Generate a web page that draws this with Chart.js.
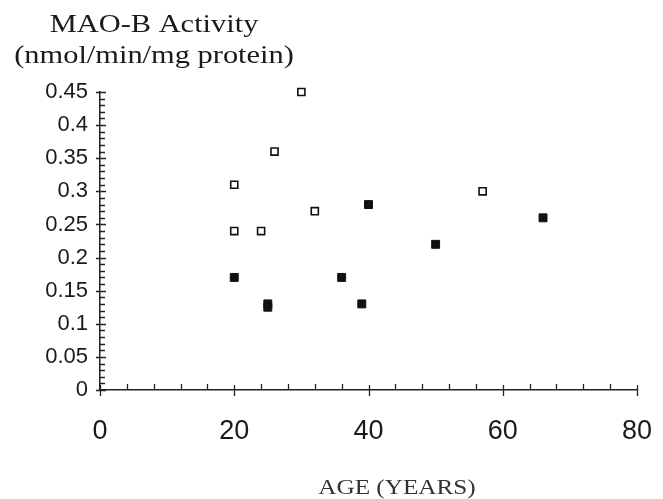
<!DOCTYPE html>
<html>
<head>
<meta charset="utf-8">
<script src="https://cdn.jsdelivr.net/npm/chart.js@4"></script>
<style>
  body { margin: 0; background: #fff; }
</style>
</head>
<body>
<canvas id="myChart" width="663" height="499"></canvas>
<script>
const ctx = document.getElementById("myChart")

// open squares
const openAge = [20, 20, 24, 26, 30, 32, 57]
const openMao = [0.31, 0.24, 0.24, 0.36, 0.45, 0.27, 0.30]

// filled squares
const filledAge = [20, 25, 25, 36, 39, 40, 50, 66]
const filledMao = [0.17, 0.13, 0.125, 0.17, 0.13, 0.28, 0.22, 0.26]

const yTicks = [0, 0.05, 0.1, 0.15, 0.2, 0.25, 0.3, 0.35, 0.4, 0.45]
const xTicks = [0, 20, 40, 60, 80]

const titleLines = ['MAO-B Activity', '(nmol/min/mg protein)']
const xTitle = 'AGE (YEARS)'

const toPoints = (xs, ys) => xs.map((x, i) => ({ x: x, y: ys[i] }))

// minor ticks + titles, drawn from the scales
const paperAxes = {
  id: 'paperAxes',
  afterDraw(chart) {
    const c = chart.ctx
    const xs = chart.scales.x
    const ys = chart.scales.y
    const x0 = xs.getPixelForValue(0)
    const y0 = ys.getPixelForValue(0)
    c.save()
    c.strokeStyle = '#222'
    c.lineWidth = 1.3
    c.beginPath()
    for (let i = 0; i <= 45; i++) {
      const py = Math.round(ys.getPixelForValue(i / 100)) + 0.5
      if (i % 5 === 0) { c.moveTo(x0 - 4, py); c.lineTo(x0 + 6, py) }
      else { c.moveTo(x0, py); c.lineTo(x0 + 5, py) }
    }
    for (let v = 0; v <= 80; v += 4) {
      const px = Math.round(xs.getPixelForValue(v)) + 0.5
      if (v % 20 === 0) { c.moveTo(px, y0 - 5); c.lineTo(px, y0 + 6) }
      else { c.moveTo(px, y0); c.lineTo(px, y0 - 6) }
    }
    c.stroke()

    c.fillStyle = '#1a1a1a'
    c.textAlign = 'center'
    c.textBaseline = 'alphabetic'
    c.font = '26px "Liberation Serif"'
    c.save(); c.translate(154, 32); c.scale(1.17, 1); c.fillText(titleLines[0], 0, 0); c.restore()
    c.save(); c.translate(154, 63); c.scale(1.17, 1); c.fillText(titleLines[1], 0, 0); c.restore()

    c.fillStyle = '#333'
    c.font = '21px "Liberation Serif"'
    c.save(); c.translate(397, 494); c.scale(1.2, 1); c.fillText(xTitle, 0, 0); c.restore()
    c.restore()
  }
}

const data = {
  datasets: [{
    data: toPoints(openAge, openMao),
    pointStyle: 'rect',
    pointRadius: 5,
    backgroundColor: '#fff',
    borderColor: '#111',
    borderWidth: 1.6,
    showLine: false,
    clip: false
  }, {
    data: toPoints(filledAge, filledMao),
    pointStyle: 'rect',
    pointRadius: 5.6,
    backgroundColor: '#111',
    borderColor: '#111',
    borderWidth: 1,
    showLine: false,
    clip: false
  }]
}

const config = {
  type: 'scatter',
  data: data,
  options: {
    responsive: false,
    animation: false,
    layout: { padding: { top: 92, right: 26, left: 0, bottom: 0 } },
    plugins: {
      legend: { display: false },
      tooltip: { enabled: false },
      title: { display: false }
    },
    scales: {
      x: {
        type: 'linear',
        min: 0,
        max: 80,
        afterFit: s => { s.height = 109; s.paddingRight = 0; s.paddingLeft = 0 },
        afterBuildTicks: s => { s.ticks = xTicks.map(v => ({ value: v })) },
        grid: { display: false, drawTicks: false, tickLength: 0 },
        border: { display: true, color: '#222', width: 1.5 },
        ticks: {
          color: '#1a1a1a',
          font: { family: 'Liberation Sans', size: 27 },
          padding: 25,
          maxRotation: 0
        }
      },
      y: {
        type: 'linear',
        min: 0,
        max: 0.45,
        afterFit: s => { s.width = 100 },
        afterBuildTicks: s => { s.ticks = yTicks.map(v => ({ value: v })) },
        grid: { display: false, drawTicks: false, tickLength: 0 },
        border: { display: true, color: '#222', width: 1.5 },
        ticks: {
          color: '#1a1a1a',
          font: { family: 'Liberation Sans', size: 22 },
          padding: 12,
          callback: v => String(+v.toFixed(2))
        }
      }
    }
  },
  plugins: [paperAxes]
}

const myChart = new Chart(ctx, config)
</script>
</body>
</html>
